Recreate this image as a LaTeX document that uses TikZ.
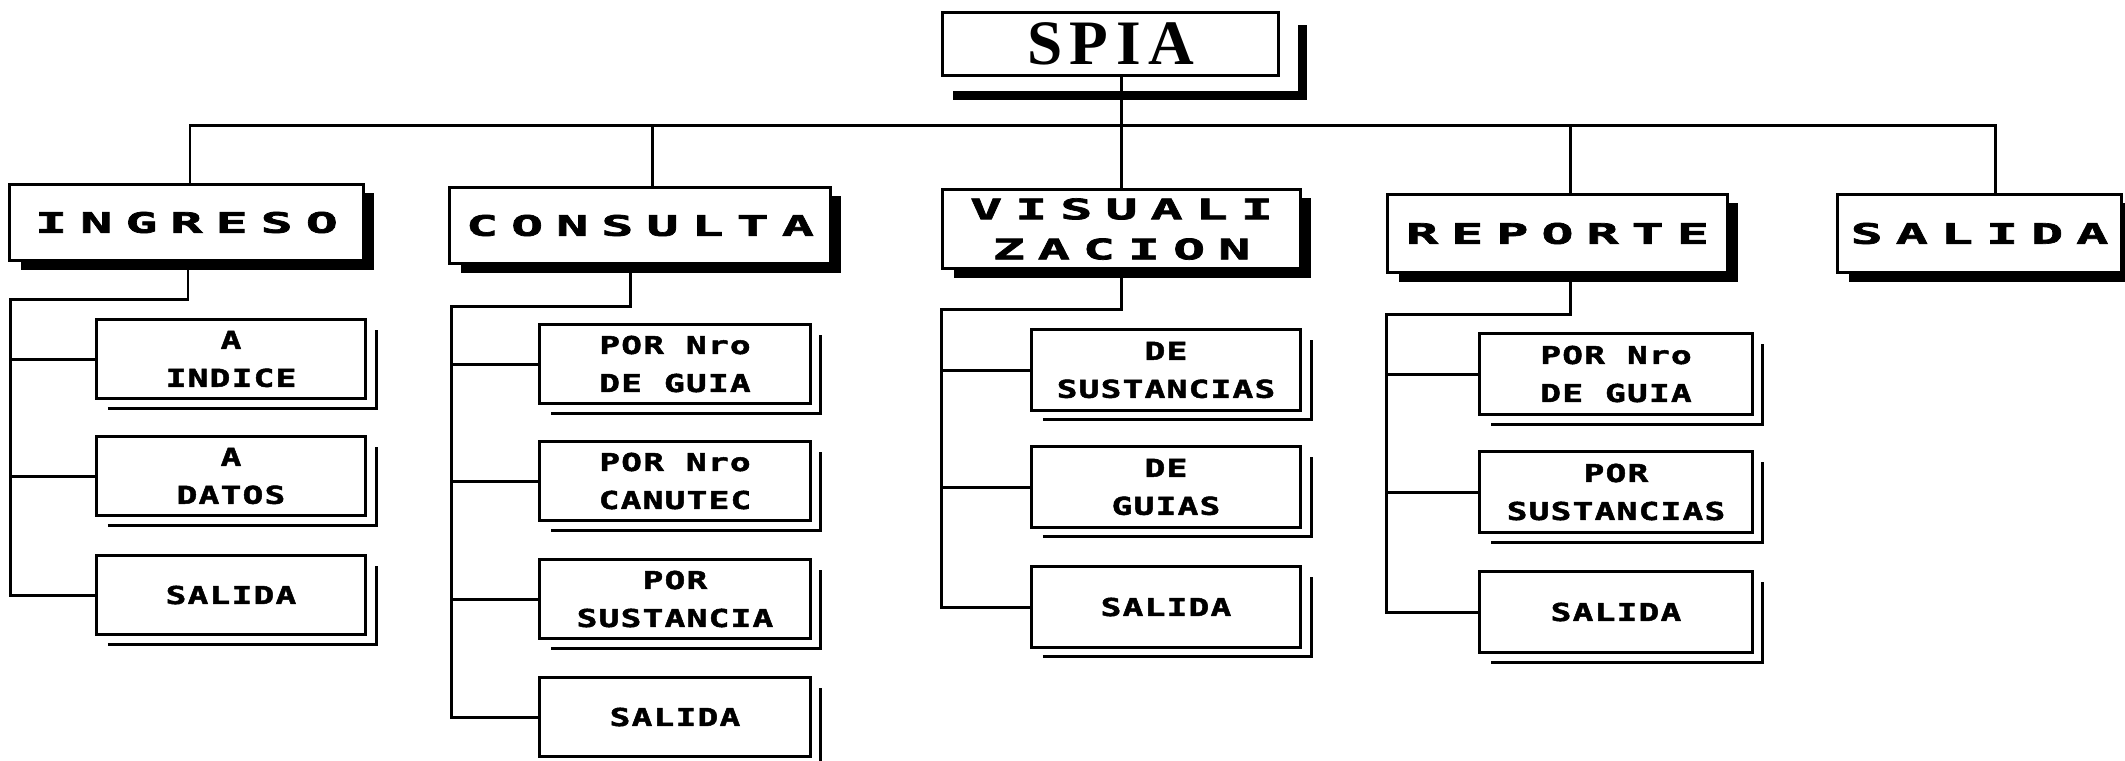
\documentclass[tikz,border=0pt]{standalone}
\usepackage{fontspec}
\usetikzlibrary{calc}
\newfontfamily\titlefont[FakeStretch=1.9,LetterSpace=46,FakeBold=2.5]{DejaVu Sans Mono Bold}
\newfontfamily\subfont[FakeStretch=1.4,LetterSpace=5,FakeBold=2]{DejaVu Sans Mono Bold}
\newfontfamily\spiafont[LetterSpace=12]{Liberation Serif Bold}
\begin{document}
\begin{tikzpicture}[x=0.01cm,y=-0.01cm,
  mainbox/.style={draw,line width=0.85pt,fill=white,inner sep=0pt,align=center,
    font=\titlefont\fontsize{8}{11.4}\selectfont},
  subbox/.style={draw,line width=0.85pt,fill=white,inner sep=0pt,align=center,
    minimum width=2.69cm,minimum height=0.79cm,
    font=\subfont\fontsize{7}{10.8}\selectfont},
  wire/.style={line width=0.85pt},
  heavy/.style={line width=2.7pt},
  thinsh/.style={line width=0.85pt}]
\useasboundingbox (0,0) rectangle (2125,760);

% main boxes
\node[mainbox,minimum width=3.35cm,minimum height=0.62cm,
  font=\spiafont\fontsize{18}{18}\selectfont] (SPIA) at (1110.5,44) {SPIA};
\node[mainbox,minimum width=3.53cm,minimum height=0.75cm] (ING) at (186.5,222.5) {INGRESO};
\node[mainbox,minimum width=3.80cm,minimum height=0.75cm] (CON) at (640,225.5) {CONSULTA};
\node[mainbox,minimum width=3.57cm,minimum height=0.78cm] (VIS) at (1121.5,229) {VISUALI\\ZACION};
\node[mainbox,minimum width=3.39cm,minimum height=0.77cm] (REP) at (1557.5,233.5) {REPORTE};
\node[mainbox,minimum width=2.83cm,minimum height=0.77cm] (SAL) at (1979.5,233.5) {SALIDA};

% SPIA shadow (detached)
\draw[heavy] ($(SPIA.south west)+(12,19)$) -- ($(SPIA.south east)+(23,19)$) -- ($(SPIA.north east)+(23,14)$);
% main box shadows
\foreach \n in {ING,CON,VIS,REP,SAL}{
  \draw[heavy] ($(\n.south west)+(13,4)$) -- ($(\n.south east)+(5,4)$) -- ($(\n.north east)+(5,10)$);
}

% sub boxes
\node[subbox] (I1) at (231,359) {A\\INDICE};
\node[subbox] (I2) at (231,476) {A\\DATOS};
\node[subbox] (I3) at (231,595) {SALIDA};
\node[subbox,minimum width=2.70cm] (C1) at (675,364) {POR Nro\\DE GUIA};
\node[subbox,minimum width=2.70cm] (C2) at (675,481) {POR Nro\\CANUTEC};
\node[subbox,minimum width=2.70cm] (C3) at (675,599) {POR\\SUSTANCIA};
\node[subbox,minimum width=2.70cm] (C4) at (675,717) {SALIDA};
\node[subbox,minimum height=0.80cm] (V1) at (1166,370) {DE\\SUSTANCIAS};
\node[subbox,minimum height=0.80cm] (V2) at (1166,487) {DE\\GUIAS};
\node[subbox,minimum height=0.80cm] (V3) at (1166,607) {SALIDA};
\node[subbox,minimum width=2.72cm,minimum height=0.81cm] (R1) at (1616,374) {POR Nro\\DE GUIA};
\node[subbox,minimum width=2.72cm,minimum height=0.81cm] (R2) at (1616,492) {POR\\SUSTANCIAS};
\node[subbox,minimum width=2.72cm,minimum height=0.81cm] (R3) at (1616,612) {SALIDA};

% sub box double-line shadows
\foreach \n in {I1,I2,I3,C1,C2,C3,C4,V1,V2,V3,R1,R2,R3}{
  \draw[thinsh] ($(\n.south west)+(13,8)$) -- ($(\n.south east)+(9,8)$) -- ($(\n.north east)+(9,12)$);
}

% bus
\coordinate (busy) at (0,125);
\coordinate (dING) at ($(ING.north)+(3.5,0)$);
\coordinate (dCON) at ($(CON.north)+(12,0)$);
\coordinate (dREP) at ($(REP.north)+(12.5,0)$);
\coordinate (dSAL) at ($(SAL.north)+(15.5,0)$);
\draw[wire] (SPIA.south -| VIS.north) -- (VIS.north);
\draw[wire] (dING) -- (dING |- busy) -- (dSAL |- busy) -- (dSAL);
\draw[wire] (dCON) -- (dCON |- busy);
\draw[wire] (dREP) -- (dREP |- busy);

% sub connectors
\coordinate (ir) at ($(ING.south west)+(2,38)$);
\coordinate (iu) at ($(ING.south)+(1.5,0)$);
\draw[wire] (iu) -- (iu |- ir) -- (ir) -- (ir |- I3.west) -- (I3.west);
\draw[wire] (ir |- I1.west) -- (I1.west);
\draw[wire] (ir |- I2.west) -- (I2.west);

\coordinate (cr) at ($(CON.south west)+(3,42)$);
\coordinate (cu) at ($(CON.south)+(-10,0)$);
\draw[wire] (cu) -- (cu |- cr) -- (cr) -- (cr |- C4.west) -- (C4.west);
\draw[wire] (cr |- C1.west) -- (C1.west);
\draw[wire] (cr |- C2.west) -- (C2.west);
\draw[wire] (cr |- C3.west) -- (C3.west);

\coordinate (vr) at ($(VIS.south west)+(0,40)$);
\draw[wire] (VIS.south) -- (VIS.south |- vr) -- (vr) -- (vr |- V3.west) -- (V3.west);
\draw[wire] (vr |- V1.west) -- (V1.west);
\draw[wire] (vr |- V2.west) -- (V2.west);

\coordinate (rr) at ($(REP.south west)+(0,41)$);
\coordinate (ru) at ($(REP.south)+(12.5,0)$);
\draw[wire] (ru) -- (ru |- rr) -- (rr) -- (rr |- R3.west) -- (R3.west);
\draw[wire] (rr |- R1.west) -- (R1.west);
\draw[wire] (rr |- R2.west) -- (R2.west);
\end{tikzpicture}
\end{document}
